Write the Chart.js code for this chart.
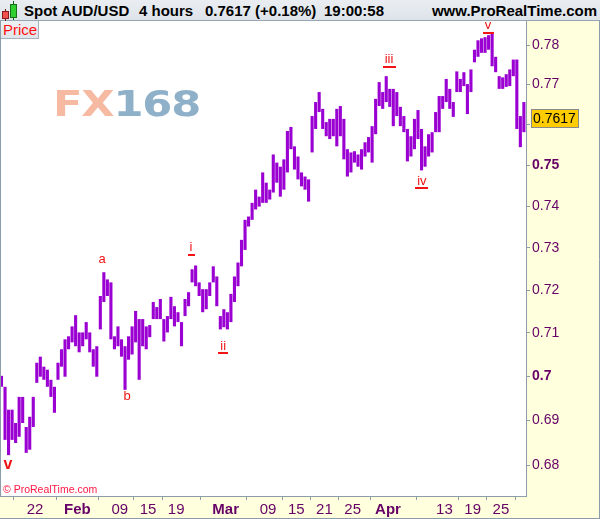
<!DOCTYPE html>
<html><head><meta charset="utf-8">
<script src="https://cdn.jsdelivr.net/npm/chart.js@4.4.1/dist/chart.umd.min.js"></script>
<style>
html,body{margin:0;padding:0;background:#fff;}
#wrap{position:relative;width:600px;height:519px;overflow:hidden;font-family:Arial,"Liberation Sans",sans-serif;}
#c{position:absolute;left:0;top:0;}
#hdr{position:absolute;left:0;top:0;width:600px;height:20px;background:linear-gradient(#eaeef2,#dde3e9);border-bottom:1px solid #97a6b5;}
#hdr span{position:absolute;top:0;line-height:21px;font-size:15px;font-weight:bold;color:#000;white-space:nowrap;}
.cdl{position:absolute;}
#price{position:absolute;left:1px;top:21px;height:18px;background:linear-gradient(#eef1f4,#dfe5ea);border-right:1px solid #a7b2bd;border-bottom:1px solid #a7b2bd;color:#ff1010;font-size:15px;line-height:18px;padding-left:2px;box-sizing:border-box;width:38px;}
#wm{position:absolute;left:53px;top:84px;font-family:"DejaVu Sans",sans-serif;font-weight:bold;font-size:36px;line-height:40px;transform:scaleX(1.2);transform-origin:left top;letter-spacing:-1px;white-space:nowrap;}
#copy{position:absolute;left:3px;top:483px;font-size:10.5px;color:#ff1744;white-space:nowrap;}
</style></head>
<body>
<div id="wrap">
<canvas id="c" width="600" height="519"></canvas>
<div id="hdr">
  <div class="cdl" style="left:5px;top:9px;width:1px;height:12px;background:#7a1010;"></div>
  <div class="cdl" style="left:2px;top:11px;width:5px;height:6px;background:#f05050;border:1px solid #8a1818;"></div>
  <div class="cdl" style="left:13px;top:1px;width:1px;height:19px;background:#106010;"></div>
  <div class="cdl" style="left:10px;top:4px;width:5px;height:12px;background:#30d030;border:1px solid #187018;"></div>
  <span style="left:24px">Spot AUD/USD</span>
  <span style="left:139px">4 hours</span>
  <span style="left:205px">0.7617 (+0.18%)</span>
  <span style="left:324px">19:00:58</span>
  <span style="right:3px">www.ProRealTime.com</span>
</div>
<div id="price">Price</div>
<div id="wm"><span style="color:#f6b9a2">FX</span><span style="color:#8fb0c9">168</span></div>
<div id="copy">© ProRealTime.com</div>
</div>
<script>
// Half-day sessions (2 per trading day), from 15 Jan 2016 to 28 Apr 2016
const lows = [
0.6976,0.6856,0.6822,0.6856,0.6849,0.6863,0.6894,0.6827,0.6834,0.6885,
0.6985,0.6999,0.6992,0.6976,0.6953,0.6917,0.6992,0.7022,0.6999,0.7062,
0.7078,0.7069,0.7055,0.7069,0.7085,0.7055,0.7022,0.6999,0.7108,0.7172,
0.7186,0.7085,0.7062,0.7069,0.7045,0.6969,0.7038,0.7050,0.7078,0.6992,
0.7069,0.7062,0.7090,0.7132,0.7132,0.7132,0.7080,0.7101,0.7132,0.7115,
0.7125,0.7069,0.7139,0.7162,0.7218,0.7209,0.7186,0.7148,0.7155,0.7186,
0.7218,0.7162,0.7108,0.7113,0.7108,0.7125,0.7172,0.7209,0.7256,0.7295,
0.7351,0.7367,0.7392,0.7399,0.7408,0.7408,0.7416,0.7433,0.7457,0.7423,
0.7440,0.7482,0.7539,0.7489,0.7465,0.7448,0.7440,0.7411,0.7531,0.7589,
0.7631,0.7589,0.7571,0.7564,0.7571,0.7546,0.7571,0.7514,0.7472,0.7482,
0.7506,0.7496,0.7489,0.7521,0.7531,0.7506,0.7576,0.7646,0.7639,0.7656,
0.7644,0.7596,0.7621,0.7596,0.7581,0.7509,0.7521,0.7539,0.7564,0.7487,
0.7496,0.7521,0.7531,0.7581,0.7581,0.7639,0.7656,0.7639,0.7619,0.7681,
0.7681,0.7696,0.7626,0.7681,0.7756,0.7770,0.7780,0.7780,0.7788,0.7746,
0.7731,0.7689,0.7689,0.7694,0.7696,0.7721,0.7589,0.7544,0.7581];
const highs = [
0.7001,0.6976,0.6924,0.6924,0.6894,0.6953,0.6953,0.6885,0.6908,0.6953,
0.7031,0.7045,0.7022,0.7015,0.6992,0.6976,0.7031,0.7062,0.7085,0.7092,
0.7115,0.7141,0.7101,0.7101,0.7125,0.7101,0.7062,0.7069,0.7186,0.7242,
0.7225,0.7218,0.7092,0.7115,0.7085,0.7069,0.7092,0.7115,0.7151,0.7132,
0.7132,0.7115,0.7118,0.7172,0.7160,0.7179,0.7132,0.7139,0.7184,0.7162,
0.7148,0.7125,0.7179,0.7195,0.7249,0.7258,0.7218,0.7202,0.7202,0.7218,
0.7256,0.7232,0.7139,0.7155,0.7148,0.7191,0.7232,0.7265,0.7319,0.7367,
0.7375,0.7408,0.7440,0.7423,0.7482,0.7457,0.7440,0.7526,0.7506,0.7496,
0.7514,0.7584,0.7594,0.7546,0.7521,0.7482,0.7472,0.7465,0.7621,0.7656,
0.7681,0.7639,0.7606,0.7614,0.7614,0.7639,0.7646,0.7614,0.7539,0.7531,
0.7534,0.7526,0.7539,0.7556,0.7569,0.7596,0.7664,0.7706,0.7681,0.7721,
0.7689,0.7689,0.7681,0.7644,0.7621,0.7589,0.7571,0.7614,0.7636,0.7589,
0.7546,0.7576,0.7581,0.7631,0.7671,0.7671,0.7714,0.7689,0.7656,0.7733,
0.7714,0.7731,0.7701,0.7738,0.7788,0.7812,0.7817,0.7820,0.7825,0.7830,
0.7770,0.7721,0.7718,0.7726,0.7738,0.7763,0.7763,0.7621,0.7656];
const lastPrice = 0.7617;

// x axis: trading-day index (0 = 15 Jan 2016)
const tickDays   = [5, 11, 17, 21, 25, 32, 38, 42, 46, 50, 55, 63, 67, 71];
const tickLabels = ['22','Feb','09','15','19','Mar','09','15','21','25','Apr','13','19','25'];
const boldTicks  = ['Feb','Mar','Apr'];
const X_MIN = 0.18, X_MAX = 74.55;

// y axis (log price scale)
const yTickValues = [0.68,0.69,0.70,0.71,0.72,0.73,0.74,0.75,0.76,0.77,0.78];
const yTickLabels = ['0.68','0.69','0.7','0.71','0.72','0.73','0.74','0.75','0.76','0.77','0.78'];
const yBold = ['0.7','0.75'];
const Y_MIN = 0.67315, Y_MAX = 0.78614;

// Elliott wave annotations (day index, price)
const waveText  = ['v','a','b','i','ii','iii','iv','v'];
const waveDay   = [1.18, 14.5, 18.05, 27.1, 31.65, 55.15, 59.8, 69.15];
const wavePrice = [0.6802, 0.7272, 0.6953, 0.7300, 0.7069, 0.7763, 0.7460, 0.7849];
const waveUnder = [false,false,false,true,true,true,true,true];

const barData = lows.map((lo, k) => ({ x: 0.25 + 0.5 * k, y: [lo, highs[k]] }));

const AXIS = '#8d9cab';
const LABEL = '#660066';
const FONT = 'Arial, "Liberation Sans", sans-serif';

const bgPlugin = {
  id: 'bg',
  beforeDraw(chart) {
    const {ctx, chartArea: a} = chart;
    ctx.save();
    ctx.fillStyle = '#ffffdd';
    ctx.fillRect(0, 0, 600, 519);
    ctx.fillStyle = '#ffffff';
    ctx.fillRect(a.left, a.top, a.right - a.left, a.bottom - a.top);
    ctx.restore();
  },
  afterDraw(chart) {
    const {ctx, chartArea: a, scales} = chart;
    ctx.save();
    ctx.strokeStyle = AXIS;
    ctx.lineWidth = 1;
    ctx.beginPath();
    ctx.moveTo(0.5, a.top); ctx.lineTo(0.5, a.bottom + 1);
    ctx.moveTo(599.5, 0); ctx.lineTo(599.5, 519);
    ctx.moveTo(0, 518.5); ctx.lineTo(600, 518.5);
    ctx.stroke();
    // price tag
    const y = Math.round(scales.y.getPixelForValue(lastPrice));
    ctx.fillStyle = '#ffcc00';
    ctx.fillRect(531, y - 9, 48, 19);
    ctx.strokeStyle = '#8a8a8a';
    ctx.strokeRect(531.5, y - 8.5, 47, 18);
    ctx.fillStyle = '#000';
    ctx.font = '14px ' + FONT;
    ctx.textBaseline = 'middle';
    ctx.textAlign = 'left';
    ctx.fillText(lastPrice.toFixed(4), 533, y + 1);
    ctx.restore();
  }
};

const wavePlugin = {
  id: 'waves',
  afterDatasetsDraw(chart) {
    const {ctx, scales} = chart;
    ctx.save();
    ctx.textAlign = 'center';
    ctx.textBaseline = 'middle';
    waveText.forEach((t, i) => {
      const x = scales.x.getPixelForValue(waveDay[i]);
      const y = scales.y.getPixelForValue(wavePrice[i]);
      ctx.fillStyle = '#f01414';
      ctx.font = (i === 0 ? 'bold 16px ' : '13px ') + FONT;
      ctx.fillText(t, x, y);
      if (waveUnder[i]) {
        const w = ctx.measureText(t).width + 4;
        ctx.fillRect(Math.round(x - w / 2), Math.round(y + 6), Math.round(w), 2);
      }
    });
    ctx.restore();
  }
};

new Chart(document.getElementById('c'), {
  type: 'bar',
  data: {
    datasets: [{
      data: barData,
      backgroundColor: '#9a00d2',
      borderWidth: 0,
      barPercentage: 0.88,
      categoryPercentage: 1
    }]
  },
  options: {
    responsive: false,
    animation: false,
    devicePixelRatio: 1,
    layout: { padding: { top: 21, left: 1, right: 0, bottom: 0 } },
    plugins: { legend: { display: false }, tooltip: { enabled: false } },
    scales: {
      x: {
        type: 'linear',
        bounds: 'data',
        min: X_MIN,
        max: X_MAX,
        offset: false,
        afterBuildTicks(scale) {
          scale.ticks = tickDays.map(v => ({ value: v }));
          scale.min = X_MIN; scale.max = X_MAX;
        },
        afterFit(scale) { scale.height = 23; },
        grid: { drawOnChartArea: false, drawTicks: true, tickLength: 4, color: AXIS },
        border: { color: AXIS },
        ticks: {
          autoSkip: false, maxRotation: 0, padding: 1, color: LABEL,
          callback: (v, i) => tickLabels[i],
          font: (c) => ({ family: FONT, size: 15,
                          weight: boldTicks.includes(tickLabels[c.index]) ? 'bold' : 'normal' })
        }
      },
      y: {
        type: 'logarithmic',
        bounds: 'data',
        position: 'right',
        min: Y_MIN,
        max: Y_MAX,
        afterBuildTicks(scale) {
          scale.ticks = yTickValues.map(v => ({ value: v }));
          scale.min = Y_MIN; scale.max = Y_MAX;
        },
        afterFit(scale) { scale.width = 74; },
        grid: { drawOnChartArea: false, drawTicks: true, tickLength: 4, color: AXIS },
        border: { color: AXIS },
        ticks: {
          padding: 2, color: LABEL,
          callback: (v, i) => yTickLabels[i],
          font: (c) => ({ family: FONT, size: 14,
                          weight: yBold.includes(yTickLabels[c.index]) ? 'bold' : 'normal' })
        }
      }
    }
  },
  plugins: [bgPlugin, wavePlugin]
});
</script>
</body></html>
